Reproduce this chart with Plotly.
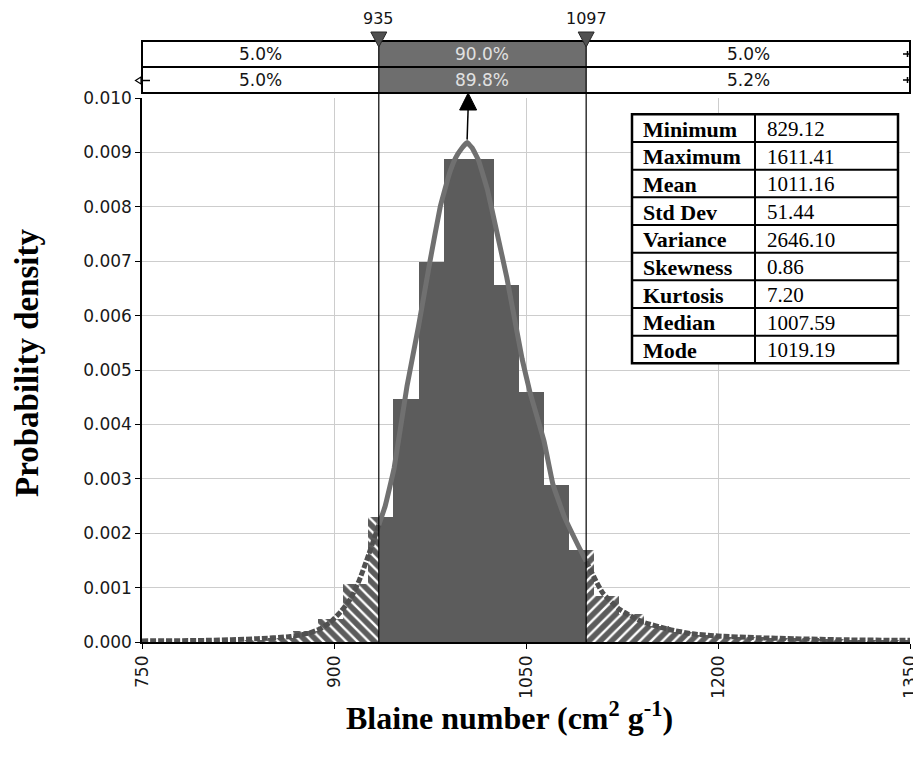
import plotly.graph_objects as go

# ---------------- data ----------------
stat_names = ["Minimum", "Maximum", "Mean", "Std Dev", "Variance", "Skewness", "Kurtosis", "Median", "Mode"]
stat_values = ["829.12", "1611.41", "1011.16", "51.44", "2646.10", "0.86", "7.20", "1007.59", "1019.19"]
data_min = 829.12
data_max = 1611.41
n_bins = 40

# histogram densities (one per bin)
densities = [0.00004, 0.00008, 0.00020, 0.00043, 0.00107, 0.00230, 0.00447, 0.00698,
             0.00888, 0.00888, 0.00657, 0.00460, 0.00288, 0.00170, 0.00085, 0.00051,
             0.00030, 0.00018, 0.00012, 0.00010, 0.00009, 0.00008, 0.00007, 0.00005,
             0.00004, 0.00004, 0.00003, 0.00003, 0.00002, 0.00002, 0.00002, 0.00001,
             0.00001, 0.00001, 0.00001, 0.00001, 0.00001, 0.00001, 0.00001, 0.00001]

# fitted curve
curve_x = [750, 800, 840, 866, 880, 889, 897, 905, 913, 920, 927, 935, 940, 947, 957, 966,
           975, 983, 990, 995, 1000, 1004, 1008, 1013, 1020, 1027, 1035, 1047, 1053, 1064,
           1071, 1080, 1091, 1097, 1103, 1110, 1123, 1141, 1162, 1180, 1200, 1230, 1260,
           1300, 1350]
curve_y = [0.00002, 0.00003, 0.00006, 0.00010, 0.00016, 0.00024, 0.00036, 0.00055, 0.00080,
           0.00115, 0.00160, 0.00215, 0.00250, 0.00320, 0.00470, 0.00580, 0.00700, 0.00800,
           0.00860, 0.00890, 0.00908, 0.00918, 0.00908, 0.00885, 0.00830, 0.00756, 0.00670,
           0.00520, 0.00460, 0.00370, 0.00290, 0.00230, 0.00176, 0.00148, 0.00120, 0.00090,
           0.00060, 0.00037, 0.00023, 0.00015, 0.00011, 0.00008, 0.00006, 0.00004, 0.00003]

band_lo, band_hi = 935, 1097
top_pcts = ["5.0%", "90.0%", "5.0%"]
bot_pcts = ["5.0%", "89.8%", "5.2%"]

x_ticks = [750, 900, 1050, 1200, 1350]
x_range = [750, 1350]
y_range = [0, 0.010]

# ---------------- layout geometry (pixels) ----------------
W, Hfig = 913, 761
L, R, T, B = 142, 3, 98, 119
PW = W - L - R
PH = Hfig - T - B
BOTTOM = Hfig - B


def py(Y):
    return (BOTTOM - Y) / PH


def px(X):
    return (X - L) / PW


# ---------------- bars ----------------
bw = (data_max - data_min) / n_bins
edges = [data_min + k * bw for k in range(n_bins + 1)]
groups = {"left": ([], [], []), "center": ([], [], []), "right": ([], [], [])}
for i, d in enumerate(densities):
    a, b = edges[i], edges[i + 1]
    cuts = [a] + [c for c in (band_lo, band_hi) if a < c < b] + [b]
    for p, q in zip(cuts[:-1], cuts[1:]):
        m = (p + q) / 2
        g = "left" if m < band_lo else ("right" if m > band_hi else "center")
        groups[g][0].append(p)
        groups[g][1].append(q - p)
        groups[g][2].append(d)

fig = go.Figure()
bar_dark = "rgb(92,92,92)"
fig.add_trace(go.Bar(x=groups["center"][0], width=groups["center"][1], y=groups["center"][2],
                     offset=0, marker=dict(color=bar_dark, line=dict(width=0)), showlegend=False))
fig.add_trace(go.Bar(x=groups["left"][0], width=groups["left"][1], y=groups["left"][2], offset=0,
                     marker=dict(color=bar_dark, line=dict(width=0),
                                 pattern=dict(shape="\\", fgcolor="white", bgcolor=bar_dark,
                                              size=8, solidity=0.3, fillmode="replace")),
                     showlegend=False))
fig.add_trace(go.Bar(x=groups["right"][0], width=groups["right"][1], y=groups["right"][2], offset=0,
                     marker=dict(color=bar_dark, line=dict(width=0),
                                 pattern=dict(shape="/", fgcolor="white", bgcolor=bar_dark,
                                              size=8, solidity=0.3, fillmode="replace")),
                     showlegend=False))

# ---------------- curve ----------------
lx = [x for x in curve_x if x <= band_lo]
ly = [y for x, y in zip(curve_x, curve_y) if x <= band_lo]
cx = [x for x in curve_x if band_lo <= x <= band_hi]
cy = [y for x, y in zip(curve_x, curve_y) if band_lo <= x <= band_hi]
rx = [x for x in curve_x if x >= band_hi]
ry = [y for x, y in zip(curve_x, curve_y) if x >= band_hi]
tail_line = dict(color="rgb(80,80,80)", width=5, dash="6px,2px", shape="spline", smoothing=0.5)
fig.add_trace(go.Scatter(x=lx, y=ly, mode="lines", line=tail_line, showlegend=False))
fig.add_trace(go.Scatter(x=rx, y=ry, mode="lines", line=tail_line, showlegend=False))
fig.add_trace(go.Scatter(x=cx, y=cy, mode="lines",
                         line=dict(color="rgb(112,112,112)", width=5, shape="spline", smoothing=0.25),
                         showlegend=False))

shapes = []
annotations = []

# ---------------- top percentage bands ----------------
band_rows = [(41, 67, top_pcts), (67, 93, bot_pcts)]
for (y0, y1, pcts) in band_rows:
    shapes.append(dict(type="rect", xref="paper", yref="paper", x0=0, x1=1, y0=py(y1), y1=py(y0),
                       fillcolor="white", line=dict(width=0), layer="above"))
    shapes.append(dict(type="rect", xref="x", yref="paper", x0=band_lo, x1=band_hi, y0=py(y1), y1=py(y0),
                       fillcolor="rgb(110,110,110)", line=dict(width=0), layer="above"))
    centers = [(x_range[0] + band_lo) / 2, (band_lo + band_hi) / 2, (band_hi + x_range[1]) / 2]
    for j, (cxp, t) in enumerate(zip(centers, pcts)):
        annotations.append(dict(x=cxp, y=py((y0 + y1) / 2), xref="x", yref="paper", text=t,
                                showarrow=False, xanchor="center", yanchor="middle",
                                font=dict(family="DejaVu Sans", size=17,
                                          color="rgb(225,225,225)" if j == 1 else "rgb(20,20,20)")))
for (y0, y1, pcts) in band_rows:
    shapes.append(dict(type="rect", xref="paper", yref="paper", x0=0, x1=1, y0=py(y1), y1=py(y0),
                       fillcolor="rgba(0,0,0,0)", line=dict(color="black", width=2), layer="above"))

# end markers of bands
for ym in (54, 80):
    shapes.append(dict(type="line", xref="paper", yref="paper", x0=px(903), x1=px(911), y0=py(ym), y1=py(ym),
                       line=dict(color="black", width=1.5), layer="above"))
    shapes.append(dict(type="line", xref="paper", yref="paper", x0=px(907.5), x1=px(907.5),
                       y0=py(ym - 3), y1=py(ym + 3), line=dict(color="black", width=1.5), layer="above"))
shapes.append(dict(type="path", xref="paper", yref="paper",
                   path=f"M {px(141)},{py(77)} L {px(135.5)},{py(80.5)} L {px(141)},{py(84)} Z",
                   fillcolor="white", line=dict(color="black", width=1.2), layer="above"))
shapes.append(dict(type="line", xref="paper", yref="paper", x0=px(141), x1=px(150), y0=py(80.5), y1=py(80.5),
                   line=dict(color="black", width=1.5), layer="above"))

# vertical limit lines + triangles + labels
for v in (band_lo, band_hi):
    shapes.append(dict(type="line", xref="x", yref="paper", x0=v, x1=v, y0=0, y1=py(41),
                       line=dict(color="black", width=1.2), layer="above"))
    shapes.append(dict(type="path", xref="x", xsizemode="pixel", xanchor=v, yref="paper",
                       path=f"M -8,{py(32)} L 8,{py(32)} L 0,{py(47)} Z",
                       fillcolor="rgb(80,80,80)", line=dict(color="rgb(40,40,40)", width=1), layer="above"))
    annotations.append(dict(x=v, y=py(19), xref="x", yref="paper", text=str(v), showarrow=False,
                            xanchor="center", yanchor="middle",
                            font=dict(family="DejaVu Sans", size=16, color="rgb(20,20,20)")))

# arrow from curve peak
ipk = max(range(len(curve_y)), key=lambda i: curve_y[i])
peak_x = curve_x[ipk]
peak_Y = BOTTOM - curve_y[ipk] / y_range[1] * PH
shapes.append(dict(type="line", xref="x", yref="paper", x0=peak_x, x1=peak_x + 0.8, y0=py(peak_Y - 3), y1=py(108),
                   line=dict(color="black", width=1.5), layer="above"))
shapes.append(dict(type="path", xref="x", xsizemode="pixel", xanchor=peak_x + 0.8, yref="paper",
                   path=f"M -8.5,{py(110)} L 8.5,{py(110)} L 0,{py(93)} Z",
                   fillcolor="black", line=dict(color="black", width=1), layer="above"))

# ---------------- statistics table ----------------
tl, tr, tdiv, ttop = 632, 898, 755, 114.3
rh = 27.67
tbot = ttop + rh * len(stat_names)
shapes.append(dict(type="rect", xref="paper", yref="paper", x0=px(tl), x1=px(tr), y0=py(tbot), y1=py(ttop),
                   fillcolor="white", line=dict(color="black", width=2.5), layer="above"))
shapes.append(dict(type="line", xref="paper", yref="paper", x0=px(tdiv), x1=px(tdiv), y0=py(tbot), y1=py(ttop),
                   line=dict(color="black", width=2), layer="above"))
for i in range(1, len(stat_names)):
    yy = ttop + i * rh
    shapes.append(dict(type="line", xref="paper", yref="paper", x0=px(tl), x1=px(tr), y0=py(yy), y1=py(yy),
                       line=dict(color="black", width=2), layer="above"))
for i, (nm, vl) in enumerate(zip(stat_names, stat_values)):
    yc = ttop + (i + 0.5) * rh
    annotations.append(dict(x=px(tl + 9), y=py(yc + 1), xref="paper", yref="paper", text=f"<b>{nm}</b>",
                            showarrow=False, xanchor="left", yanchor="middle",
                            font=dict(family="Liberation Serif", size=22, color="black")))
    annotations.append(dict(x=px(tdiv + 10), y=py(yc + 1), xref="paper", yref="paper", text=vl,
                            showarrow=False, xanchor="left", yanchor="middle",
                            font=dict(family="Liberation Serif", size=21, color="black")))

# ---------------- axis titles ----------------
annotations.append(dict(x=px(509), y=py(716), xref="paper", yref="paper",
                        text="<b>Blaine number (cm<sup>2</sup> g<sup>-1</sup>)</b>", showarrow=False,
                        xanchor="center", yanchor="middle",
                        font=dict(family="Liberation Serif", size=32, color="black")))
annotations.append(dict(x=px(27), y=py(363), xref="paper", yref="paper", text="<b>Probability density</b>",
                        showarrow=False, textangle=-90, xanchor="center", yanchor="middle",
                        font=dict(family="Liberation Serif", size=33, color="black")))

fig.update_layout(
    width=W, height=Hfig,
    margin=dict(l=L, r=R, t=T, b=B, pad=0, autoexpand=False),
    paper_bgcolor="white", plot_bgcolor="white",
    barmode="overlay", bargap=0,
    shapes=shapes, annotations=annotations,
    xaxis=dict(range=x_range, tickvals=x_ticks, ticktext=[str(t) for t in x_ticks], tickangle=-90,
               automargin=False, ticklabeloverflow="allow",
               showgrid=True, gridcolor="rgb(205,205,205)", gridwidth=1.2, zeroline=False,
               showline=True, linecolor="black", linewidth=1.5, ticks="outside", ticklen=5,
               tickcolor="black", tickfont=dict(family="DejaVu Sans", size=17, color="rgb(25,25,25)")),
    yaxis=dict(range=y_range, dtick=0.001, tickformat=".3f", automargin=False,
               showgrid=True, gridcolor="rgb(205,205,205)", gridwidth=1.2, zeroline=False,
               showline=True, linecolor="black", linewidth=1.5, ticks="outside", ticklen=5,
               tickcolor="black", tickfont=dict(family="DejaVu Sans", size=17, color="rgb(25,25,25)")),
)

fig.write_html("out.html", config={"displayModeBar": False},
               post_script="document.body.style.margin='0px';document.body.style.overflow='hidden';")
